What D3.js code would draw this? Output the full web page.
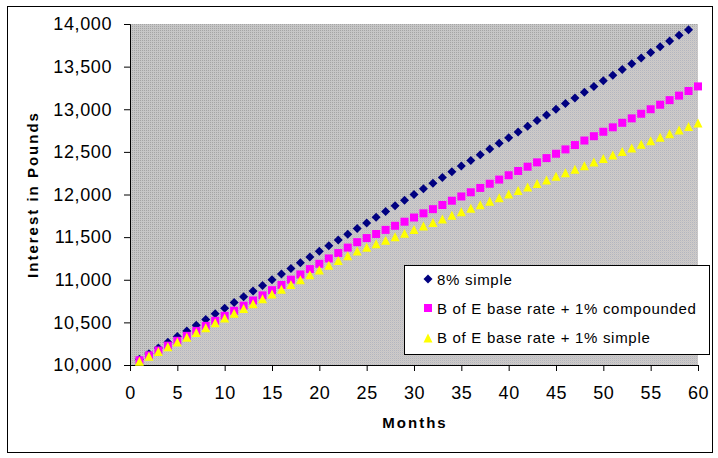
<!DOCTYPE html>
<html>
<head>
<meta charset="utf-8">
<script src="https://cdn.jsdelivr.net/npm/d3@7/dist/d3.min.js"></script>
<style>
  html, body { margin: 0; padding: 0; background: #ffffff; }
  svg { display: block; }
  text { font-family: "Liberation Sans", Arial, sans-serif; fill: #000; }
</style>
</head>
<body>
<svg id="chart" width="718" height="458"></svg>
<script>
// ---- Data ----
const monthsSimple8 = [1,2,3,4,5,6,7,8,9,10,11,12,13,14,15,16,17,18,19,20,21,22,23,24,25,26,27,28,29,30,31,32,33,34,35,36,37,38,39,40,41,42,43,44,45,46,47,48,49,50,51,52,53,54,55,56,57,58,59];
const simple8 = [10067,10133,10200,10267,10333,10400,10467,10533,10600,10667,10733,10800,10867,10933,11000,11067,11133,11200,11267,11333,11400,11467,11533,11600,11667,11733,11800,11867,11933,12000,12067,12133,12200,12267,12333,12400,12467,12533,12600,12667,12733,12800,12867,12933,13000,13067,13133,13200,13267,13333,13400,13467,13533,13600,13667,13733,13800,13867,13933];
const months = [1,2,3,4,5,6,7,8,9,10,11,12,13,14,15,16,17,18,19,20,21,22,23,24,25,26,27,28,29,30,31,32,33,34,35,36,37,38,39,40,41,42,43,44,45,46,47,48,49,50,51,52,53,54,55,56,57,58,59,60];
const boeCompounded = [10056,10113,10170,10227,10284,10342,10400,10459,10518,10577,10636,10696,10756,10817,10878,10939,11001,11062,11125,11187,11250,11313,11377,11441,11489,11537,11585,11633,11681,11730,11779,11828,11877,11927,11977,12026,12077,12126,12175,12225,12276,12326,12377,12427,12478,12529,12580,12633,12684,12736,12788,12841,12893,12947,13000,13053,13107,13160,13214,13268];
const boeSimple = [10056,10113,10169,10225,10281,10338,10394,10450,10506,10563,10619,10675,10731,10788,10844,10900,10956,11013,11069,11125,11181,11238,11294,11350,11392,11433,11475,11517,11558,11600,11642,11683,11725,11767,11808,11850,11892,11933,11975,12017,12058,12100,12142,12183,12225,12267,12308,12350,12392,12433,12475,12517,12558,12600,12642,12683,12725,12767,12808,12850];
const seriesNames = ["8% simple", "B of E base rate + 1% compounded", "B of E base rate + 1% simple"];
const xTicks = [0,5,10,15,20,25,30,35,40,45,50,55,60];
const yTicks = [10000,10500,11000,11500,12000,12500,13000,13500,14000];
const xTitle = "Months";
const yTitle = "Interest in Pounds";

// ---- Layout ----
const svg = d3.select("#chart");
const plot = { left: 130, top: 24, right: 698, bottom: 365 };

const x = d3.scaleLinear().domain([0, 60]).range([plot.left, plot.right]);
const y = d3.scaleLinear().domain([10000, 14000]).range([plot.bottom, plot.top]);

// outer border
svg.append("rect")
  .attr("x", 7.5).attr("y", 6.5).attr("width", 705).attr("height", 446)
  .attr("fill", "#fff").attr("stroke", "#000").attr("stroke-width", 1);

// background patterns (dithered gray)
const defs = svg.append("defs");
const p1 = defs.append("pattern").attr("id", "dither1")
  .attr("width", 2).attr("height", 2).attr("patternUnits", "userSpaceOnUse");
p1.append("rect").attr("width", 2).attr("height", 2).attr("fill", "#c6c6c6");
p1.append("rect").attr("width", 1).attr("height", 1).attr("fill", "#a4a4a4");
const p2 = defs.append("pattern").attr("id", "dither2")
  .attr("width", 2).attr("height", 2).attr("patternUnits", "userSpaceOnUse");
p2.append("rect").attr("width", 2).attr("height", 2).attr("fill", "#cdcdc8");
p2.append("rect").attr("width", 1).attr("height", 1).attr("fill", "#b4b4c0");
p2.append("rect").attr("x", 1).attr("y", 1).attr("width", 1).attr("height", 1).attr("fill", "#c8c2c6");

svg.append("rect")
  .attr("x", x(0)).attr("y", y(14000))
  .attr("width", x(60) - x(0)).attr("height", y(10000) - y(14000))
  .attr("fill", "url(#dither1)");
svg.append("path")
  .attr("d", `M${x(0)},${y(10000)} L${x(60)},${y(14000)} L${x(60)},${y(10000)} Z`)
  .attr("fill", "url(#dither2)");

// axes
const xAxis = d3.axisBottom(x).tickValues(xTicks).tickSize(6).tickPadding(15).tickFormat(d3.format("d"));
const yAxis = d3.axisLeft(y).tickValues(yTicks).tickSize(6).tickPadding(12).tickFormat(d3.format(","));

const gx = svg.append("g").attr("transform", `translate(0,${plot.bottom})`).call(xAxis);
const gy = svg.append("g").attr("transform", `translate(${plot.left},0)`).call(yAxis);
[gx, gy].forEach(g => {
  g.select(".domain").attr("stroke", "#000").attr("stroke-width", 1);
  g.selectAll(".tick line").attr("stroke", "#000");
  g.selectAll(".tick text")
    .attr("fill", "#000")
    .style("font-family", '"Liberation Sans", Arial, sans-serif')
    .style("font-size", "18px")
    .style("letter-spacing", "0.6px");
});

// axis titles
svg.append("text")
  .attr("x", (plot.left + plot.right) / 2 + 1).attr("y", 428)
  .attr("text-anchor", "middle")
  .style("font-size", "15px").style("font-weight", "bold").style("letter-spacing", "2px")
  .text(xTitle);
svg.append("text")
  .attr("transform", `translate(38,${(plot.top + plot.bottom) / 2}) rotate(-90)`)
  .attr("text-anchor", "middle")
  .style("font-size", "15px").style("font-weight", "bold").style("letter-spacing", "2px")
  .text(yTitle);

// marker shapes
function diamondPath(cx, cy) {
  const p = d3.path();
  p.moveTo(cx, cy - 4.5); p.lineTo(cx + 4.5, cy); p.lineTo(cx, cy + 4.5); p.lineTo(cx - 4.5, cy); p.closePath();
  return p.toString();
}
function squarePath(cx, cy) {
  const p = d3.path();
  p.rect(cx - 4, cy - 4, 8, 8);
  return p.toString();
}
function trianglePath(cx, cy) {
  const p = d3.path();
  p.moveTo(cx, cy - 3.5); p.lineTo(cx + 4.5, cy + 5.5); p.lineTo(cx - 4.5, cy + 5.5); p.closePath();
  return p.toString();
}

const series = [
  { name: seriesNames[0], xs: monthsSimple8, ys: simple8, shape: diamondPath, color: "#000080" },
  { name: seriesNames[1], xs: months, ys: boeCompounded, shape: squarePath, color: "#ff00ff" },
  { name: seriesNames[2], xs: months, ys: boeSimple, shape: trianglePath, color: "#ffff00" }
];

series.forEach(s => {
  svg.append("g").selectAll("path")
    .data(s.ys.map((v, i) => [s.xs[i], v]))
    .join("path")
    .attr("d", d => s.shape(x(d[0]), y(d[1])))
    .attr("fill", s.color);
});

// legend
const legend = svg.append("g");
legend.append("rect")
  .attr("x", 404.5).attr("y", 265.5).attr("width", 305).attr("height", 89)
  .attr("fill", "#fff").attr("stroke", "#000").attr("stroke-width", 1);
series.forEach((s, i) => {
  const cy = 279 + i * 29;
  legend.append("path").attr("d", s.shape(428, cy)).attr("fill", s.color);
  legend.append("text")
    .attr("x", 437).attr("y", cy + 5.5)
    .style("font-size", "15px").style("letter-spacing", "0.7px")
    .text(s.name);
});
</script>
</body>
</html>
